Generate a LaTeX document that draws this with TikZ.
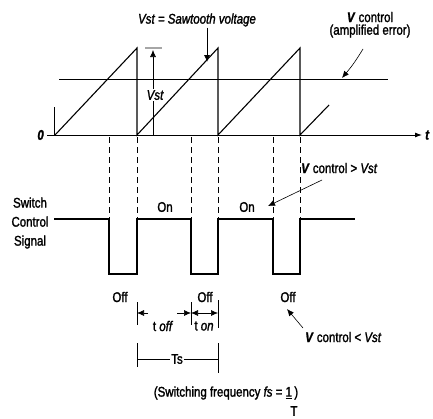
\documentclass[tikz,border=0pt]{standalone}
\usepackage{fontspec}
\setmainfont{Liberation Sans}[FakeStretch=0.82, FakeBold=1.6]
\usetikzlibrary{arrows.meta, positioning}

\tikzset{
  lbl/.style={inner sep=1pt, font=\fontsize{14}{19}\selectfont},
  sig/.style={line width=1.1pt},
  guide/.style={dashed, dash pattern=on 6pt off 4pt, line width=0.6pt},
  pointer/.style={-{Latex[length=7pt,width=6pt]}, line width=0.6pt},
  dim/.style={{Latex[length=7pt,width=6pt]}-{Latex[length=7pt,width=6pt]}, line width=0.6pt}
}

\begin{document}
\begin{tikzpicture}[x=1pt, y=-1pt]
  \useasboundingbox (0,0) rectangle (433,418);

  % time axis
  \coordinate (ax0) at (47,135);
  \coordinate (ax1) at (422,135);
  \draw[line width=0.9pt, -{Latex[length=7pt,width=5pt]}] (ax0) -- (ax1);
  \draw[line width=0.6pt] (54,107) -- (54,135);
  \node[lbl, font=\fontsize{14}{19}\selectfont\bfseries\itshape, left=2pt of ax0] (zero) {0};
  \node[lbl, font=\fontsize{14}{19}\selectfont\bfseries\itshape, anchor=west, inner sep=0pt] (tlbl) at (425,135) {t};

  % control level
  \draw[line width=0.7pt] (59,79) -- (388,79);

  % sawtooth
  \draw[sig] (55,135) -- (137,48) -- (137,135) -- (218,48) -- (218,135)
             -- (300,48) -- (300,135) -- (329,105);

  % guides from crossings and resets
  \foreach \x in {109,137,191,218,273,300}
    \draw[guide] (\x,137) -- (\x,219);

  % amplitude marker
  \draw[line width=2pt, gray!70] (145,48) -- (162,48);
  \node[lbl, font=\fontsize{14}{19}\selectfont\itshape] (vst) at (155,95) {Vst};
  \draw[line width=0.6pt] (153,135) -- (vst.south -| 153,0);
  \draw[pointer] (vst.north -| 153,0) -- (153,50);

  % sawtooth label
  \node[lbl, font=\fontsize{14}{19}\selectfont\itshape] (saw) at (197,20) {Vst = Sawtooth voltage};
  \coordinate (sawtip) at (207,62);
  \draw[pointer, line width=0.8pt] (saw.south -| sawtip) -- (sawtip);

  % control label
  \node[lbl] (vc) at (370,17) {\textbf{\textit{V}} control};
  \node[lbl, below=0pt of vc] (amp) {(amplified error)};
  \coordinate (vctip) at (342,78);
  \draw[pointer] (363,49) .. controls (355,62) and (352,66) .. (vctip);

  % switch control signal
  \draw[sig] (54,219) -- (109,219) -- (109,274) -- (137,274) -- (137,219)
             -- (191,219) -- (191,274) -- (218,274) -- (218,219)
             -- (273,219) -- (273,274) -- (300,274) -- (300,219) -- (355,219);
  \node[lbl, align=center] (sw) at (30,223) {Switch\\Control\\Signal};
  \node[lbl] (on1) at (165,207) {On};
  \node[lbl] (on2) at (247,207) {On};
  \node[lbl] (off1) at (120,297) {Off};
  \node[lbl] (off2) at (205,297) {Off};
  \node[lbl] (off3) at (288,297) {Off};

  % comparison labels
  \node[lbl, anchor=west] (gt) at (300,168) {\textbf{\textit{V}} control {\textgreater} \textit{Vst}};
  \coordinate (gttip) at (268,206);
  \draw[pointer] (322,180) -- (gttip);
  \node[lbl, anchor=west] (lt) at (304,337) {\textbf{\textit{V}} control {\textless} \textit{Vst}};
  \coordinate (lttip) at (287,309);
  \draw[pointer] (303,328) -- (lttip);

  % toff / ton dimensions
  \foreach \x/\a/\b in {137/302/325,191/302/325,218/300/328}
    \draw[line width=0.6pt] (\x,\a) -- (\x,\b);
  \node[lbl] (toff) at (163,326) {t \textit{off}};
  \node[lbl] (ton) at (204,326) {t \textit{on}};
  \draw[pointer] (148,313) -- (137,313);
  \draw[pointer] (177,313) -- (191,313);
  \draw[dim] (191,313) -- (218,313);

  % period
  \draw[line width=0.6pt] (137,343) -- (137,367);
  \draw[line width=0.6pt] (218,343) -- (218,373);
  \node[lbl] (ts) at (177,359) {Ts};
  \draw[line width=0.6pt] (137,359) -- (ts.west);
  \draw[line width=0.6pt] (ts.east) -- (218,359);

  % frequency note
  \node[lbl] (freq) at (226,393) {(Switching frequency \textit{fs} = \underline{1}\,)};
  \node[lbl] (tden) at (294,411) {T};
\end{tikzpicture}
\end{document}
